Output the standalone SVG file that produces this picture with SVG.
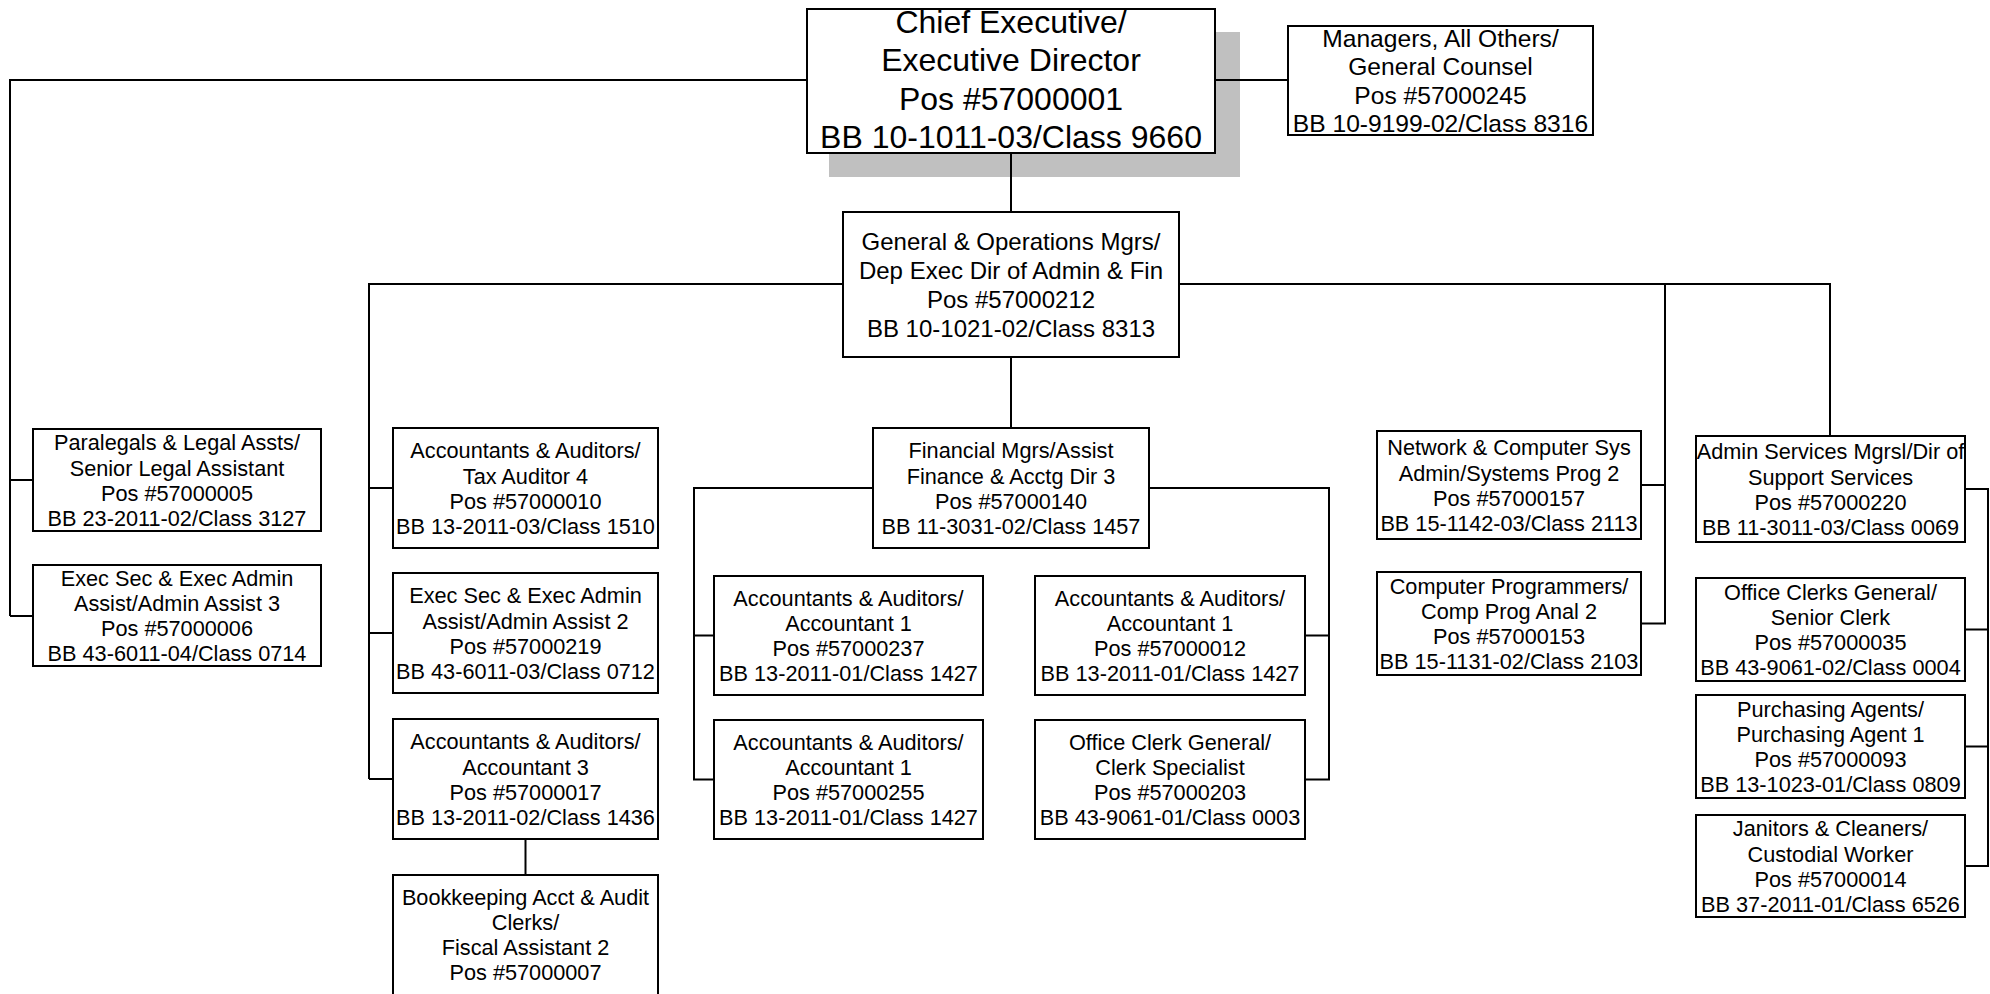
<svg xmlns="http://www.w3.org/2000/svg" width="1990" height="994" viewBox="0 0 1990 994">
<style>
.box{fill:#fff;stroke:#000;stroke-width:2}
.shadow{fill:#c0c0c0;stroke:none}
.t{font-family:"Liberation Sans",Arial,sans-serif;font-size:21.7px;text-anchor:middle;fill:#000}
.t24{font-size:24px}
.t25{font-size:24.6px}
.t32{font-size:32px}
.c{fill:none;stroke:#000;stroke-width:2}
</style>
<rect width="1990" height="994" fill="#fff"/>
<g id="nodes">
<g id="chief">
<rect class="shadow" x="829" y="32" width="411" height="145"/>
<rect class="box" x="807" y="9" width="408" height="144"/>
<text class="t t32"><tspan x="1011" y="33">Chief Executive/</tspan><tspan x="1011" y="71.3">Executive Director</tspan><tspan x="1011" y="109.6">Pos #57000001</tspan><tspan x="1011" y="148">BB 10-1011-03/Class 9660</tspan></text>
</g>
<g id="managers">
<rect class="box" x="1288" y="26" width="305" height="109"/>
<text class="t t25"><tspan x="1440.5" y="46.9">Managers, All Others/</tspan><tspan x="1440.5" y="75.4">General Counsel</tspan><tspan x="1440.5" y="103.9">Pos #57000245</tspan><tspan x="1440.5" y="132">BB 10-9199-02/Class 8316</tspan></text>
</g>
<g id="genops">
<rect class="box" x="843" y="212" width="336" height="145"/>
<text class="t t24"><tspan x="1011" y="249.8">General &amp; Operations Mgrs/</tspan><tspan x="1011" y="278.8">Dep Exec Dir of Admin &amp; Fin</tspan><tspan x="1011" y="307.8">Pos #57000212</tspan><tspan x="1011" y="336.8">BB 10-1021-02/Class 8313</tspan></text>
</g>
<g id="paralegal">
<rect class="box" x="33" y="429" width="288" height="102"/>
<text class="t"><tspan x="177" y="450.4">Paralegals &amp; Legal Assts/</tspan><tspan x="177" y="475.5">Senior Legal Assistant</tspan><tspan x="177" y="500.6">Pos #57000005</tspan><tspan x="177" y="525.7">BB 23-2011-02/Class 3127</tspan></text>
</g>
<g id="execsec3">
<rect class="box" x="33" y="565" width="288" height="101"/>
<text class="t"><tspan x="177" y="585.9">Exec Sec &amp; Exec Admin</tspan><tspan x="177" y="611">Assist/Admin Assist 3</tspan><tspan x="177" y="636.1">Pos #57000006</tspan><tspan x="177" y="661.2">BB 43-6011-04/Class 0714</tspan></text>
</g>
<g id="tax">
<rect class="box" x="393" y="428" width="265" height="120"/>
<text class="t"><tspan x="525.5" y="458.4">Accountants &amp; Auditors/</tspan><tspan x="525.5" y="483.5">Tax Auditor 4</tspan><tspan x="525.5" y="508.6">Pos #57000010</tspan><tspan x="525.5" y="533.7">BB 13-2011-03/Class 1510</tspan></text>
</g>
<g id="execsec2">
<rect class="box" x="393" y="573" width="265" height="120"/>
<text class="t"><tspan x="525.5" y="603.4">Exec Sec &amp; Exec Admin</tspan><tspan x="525.5" y="628.5">Assist/Admin Assist 2</tspan><tspan x="525.5" y="653.6">Pos #57000219</tspan><tspan x="525.5" y="678.7">BB 43-6011-03/Class 0712</tspan></text>
</g>
<g id="acct3">
<rect class="box" x="393" y="719" width="265" height="120"/>
<text class="t"><tspan x="525.5" y="749.4">Accountants &amp; Auditors/</tspan><tspan x="525.5" y="774.5">Accountant 3</tspan><tspan x="525.5" y="799.6">Pos #57000017</tspan><tspan x="525.5" y="824.7">BB 13-2011-02/Class 1436</tspan></text>
</g>
<g id="bookkeeping">
<rect class="box" x="393" y="875" width="265" height="140"/>
<text class="t"><tspan x="525.5" y="905">Bookkeeping Acct &amp; Audit</tspan><tspan x="525.5" y="930">Clerks/</tspan><tspan x="525.5" y="955">Fiscal Assistant 2</tspan><tspan x="525.5" y="980">Pos #57000007</tspan></text>
</g>
<g id="financial">
<rect class="box" x="873" y="428" width="276" height="120"/>
<text class="t"><tspan x="1011" y="458.4">Financial Mgrs/Assist</tspan><tspan x="1011" y="483.5">Finance &amp; Acctg Dir 3</tspan><tspan x="1011" y="508.6">Pos #57000140</tspan><tspan x="1011" y="533.7">BB 11-3031-02/Class 1457</tspan></text>
</g>
<g id="acct237">
<rect class="box" x="714" y="576" width="269" height="119"/>
<text class="t"><tspan x="848.5" y="605.9">Accountants &amp; Auditors/</tspan><tspan x="848.5" y="631">Accountant 1</tspan><tspan x="848.5" y="656.1">Pos #57000237</tspan><tspan x="848.5" y="681.2">BB 13-2011-01/Class 1427</tspan></text>
</g>
<g id="acct255">
<rect class="box" x="714" y="720" width="269" height="119"/>
<text class="t"><tspan x="848.5" y="749.9">Accountants &amp; Auditors/</tspan><tspan x="848.5" y="775">Accountant 1</tspan><tspan x="848.5" y="800.1">Pos #57000255</tspan><tspan x="848.5" y="825.2">BB 13-2011-01/Class 1427</tspan></text>
</g>
<g id="acct012">
<rect class="box" x="1035" y="576" width="270" height="119"/>
<text class="t"><tspan x="1170" y="605.9">Accountants &amp; Auditors/</tspan><tspan x="1170" y="631">Accountant 1</tspan><tspan x="1170" y="656.1">Pos #57000012</tspan><tspan x="1170" y="681.2">BB 13-2011-01/Class 1427</tspan></text>
</g>
<g id="officeclerkgen">
<rect class="box" x="1035" y="720" width="270" height="119"/>
<text class="t"><tspan x="1170" y="749.9">Office Clerk General/</tspan><tspan x="1170" y="775">Clerk Specialist</tspan><tspan x="1170" y="800.1">Pos #57000203</tspan><tspan x="1170" y="825.2">BB 43-9061-01/Class 0003</tspan></text>
</g>
<g id="network">
<rect class="box" x="1377" y="431" width="264" height="108"/>
<text class="t"><tspan x="1509" y="455.4">Network &amp; Computer Sys</tspan><tspan x="1509" y="480.5">Admin/Systems Prog 2</tspan><tspan x="1509" y="505.6">Pos #57000157</tspan><tspan x="1509" y="530.7">BB 15-1142-03/Class 2113</tspan></text>
</g>
<g id="compprog">
<rect class="box" x="1377" y="572" width="264" height="103"/>
<text class="t"><tspan x="1509" y="593.9">Computer Programmers/</tspan><tspan x="1509" y="619">Comp Prog Anal 2</tspan><tspan x="1509" y="644.1">Pos #57000153</tspan><tspan x="1509" y="669.2">BB 15-1131-02/Class 2103</tspan></text>
</g>
<g id="admin">
<rect class="box" x="1696" y="436" width="269" height="106"/>
<text class="t"><tspan x="1830.5" y="459.4">Admin Services Mgrsl/Dir of</tspan><tspan x="1830.5" y="484.5">Support Services</tspan><tspan x="1830.5" y="509.6">Pos #57000220</tspan><tspan x="1830.5" y="534.7">BB 11-3011-03/Class 0069</tspan></text>
</g>
<g id="officeclerks">
<rect class="box" x="1696" y="578" width="269" height="103"/>
<text class="t"><tspan x="1830.5" y="599.9">Office Clerks General/</tspan><tspan x="1830.5" y="625">Senior Clerk</tspan><tspan x="1830.5" y="650.1">Pos #57000035</tspan><tspan x="1830.5" y="675.2">BB 43-9061-02/Class 0004</tspan></text>
</g>
<g id="purchasing">
<rect class="box" x="1696" y="695" width="269" height="103"/>
<text class="t"><tspan x="1830.5" y="716.9">Purchasing Agents/</tspan><tspan x="1830.5" y="742">Purchasing Agent 1</tspan><tspan x="1830.5" y="767.1">Pos #57000093</tspan><tspan x="1830.5" y="792.2">BB 13-1023-01/Class 0809</tspan></text>
</g>
<g id="janitors">
<rect class="box" x="1696" y="815" width="269" height="102"/>
<text class="t"><tspan x="1830.5" y="836.4">Janitors &amp; Cleaners/</tspan><tspan x="1830.5" y="861.5">Custodial Worker</tspan><tspan x="1830.5" y="886.6">Pos #57000014</tspan><tspan x="1830.5" y="911.7">BB 37-2011-01/Class 6526</tspan></text>
</g>
</g>
<g id="connectors">
<path class="c" d="M807,80 H10 V616 M10,480 H33 M10,616 H33"/>
<path class="c" d="M1215,80 H1288"/>
<path class="c" d="M1011,153 V212"/>
<path class="c" d="M1011,357 V428"/>
<path class="c" d="M843,284 H369 V779 M369,488 H393 M369,633 H393 M369,779 H393"/>
<path class="c" d="M525.5,839 V875"/>
<path class="c" d="M1179,284 H1830 V436 M1665,284 V623.5 H1641 M1665,485 H1641"/>
<path class="c" d="M1965,489 H1988 V866 H1965 M1988,629.5 H1965 M1988,746.5 H1965"/>
<path class="c" d="M873,488 H694 V779.5 H714 M694,635.5 H714"/>
<path class="c" d="M1149,488 H1329 V779.5 H1305 M1329,635.5 H1305"/>
</g>
</svg>
